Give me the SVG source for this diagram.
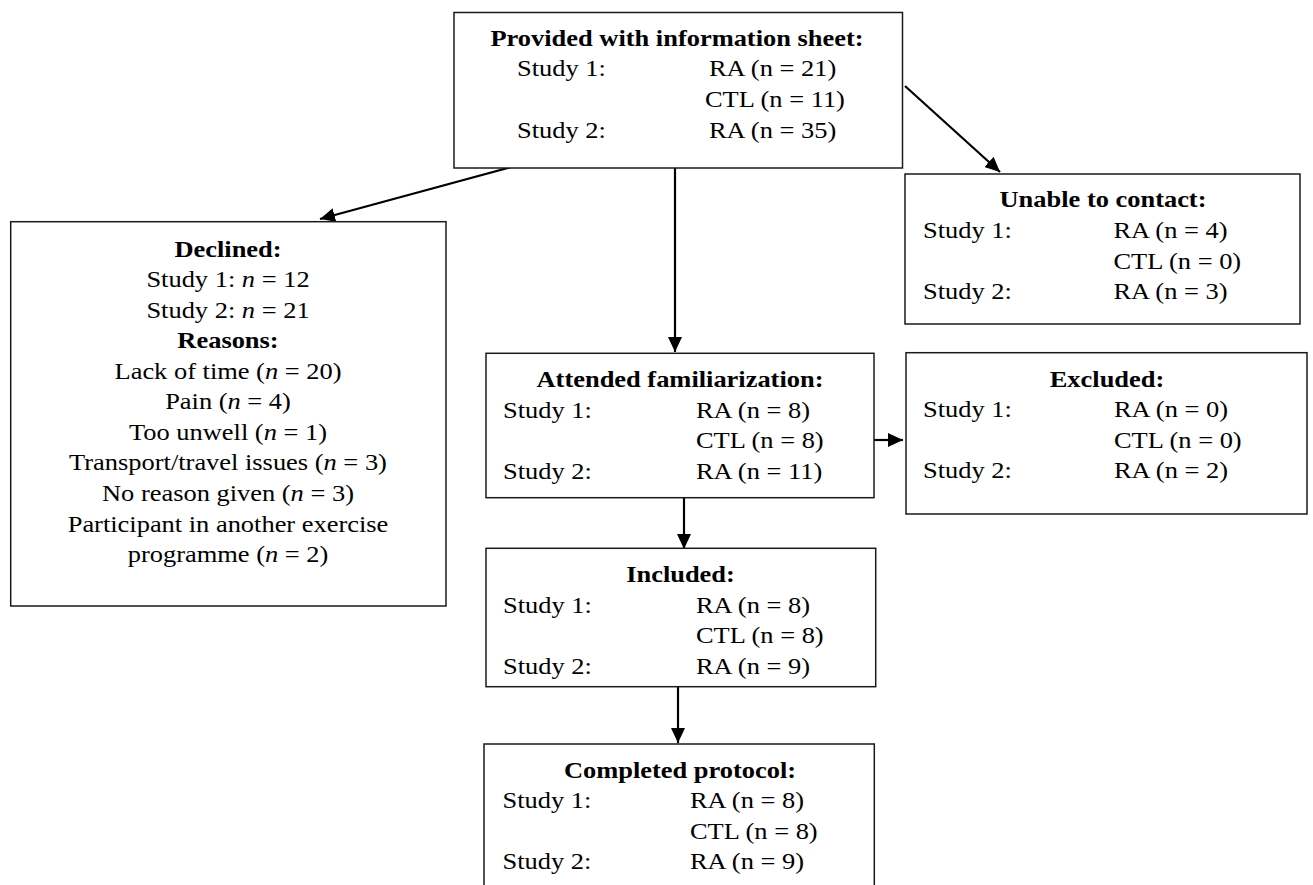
<svg xmlns="http://www.w3.org/2000/svg" width="1313" height="885" viewBox="0 0 1313 885">
<style>
.box{fill:#fff;stroke:#1a1a1a;stroke-width:1.5}
.t{font-family:"Liberation Serif","Times New Roman",serif;font-size:22.6px;fill:#000}
.h{font-weight:bold;text-anchor:middle}
.c{text-anchor:middle}
.i{font-style:italic}
.conn{stroke:#000;stroke-width:2.2;fill:none;marker-end:url(#ah)}
</style>
<defs>
<marker id="ah" markerUnits="userSpaceOnUse" markerWidth="16" markerHeight="14" refX="15" refY="7" orient="auto">
<path d="M0,0 L15,7 L0,14 z" fill="#000"/>
</marker>
</defs>
<rect width="1313" height="885" fill="#fff"/>

<g id="connectors">
<line class="conn" x1="522" y1="164" x2="320" y2="219"/>
<line class="conn" x1="675" y1="164" x2="675" y2="352"/>
<line class="conn" x1="905" y1="86" x2="1000" y2="172"/>
<line class="conn" x1="874" y1="440" x2="903" y2="440"/>
<line class="conn" x1="684" y1="498" x2="684" y2="549"/>
<line class="conn" x1="678" y1="687" x2="678" y2="743"/>
</g>

<g id="provided">
<rect class="box" x="454" y="12.5" width="448.5" height="155.5"/>
<text class="t h" transform="matrix(1.17 0 0 1 677 46)">Provided with information sheet:</text>
<text class="t" transform="matrix(1.17 0 0 1 517 76)">Study 1:</text>
<text class="t" transform="matrix(1.17 0 0 1 709 76)">RA (n = 21)</text>
<text class="t" transform="matrix(1.17 0 0 1 705 107)">CTL (n = 11)</text>
<text class="t" transform="matrix(1.17 0 0 1 517 138)">Study 2:</text>
<text class="t" transform="matrix(1.17 0 0 1 709 138)">RA (n = 35)</text>
</g>

<g id="declined">
<rect class="box" x="10.7" y="221.7" width="435.3" height="384.3"/>
<text class="t h" transform="matrix(1.17 0 0 1 228 256.5)">Declined:</text>
<text class="t c" transform="matrix(1.17 0 0 1 228 287)">Study 1: <tspan class="i">n</tspan> = 12</text>
<text class="t c" transform="matrix(1.17 0 0 1 228 317.5)">Study 2: <tspan class="i">n</tspan> = 21</text>
<text class="t h" transform="matrix(1.17 0 0 1 228 347.5)">Reasons:</text>
<text class="t c" transform="matrix(1.17 0 0 1 228 378.5)">Lack of time (<tspan class="i">n</tspan> = 20)</text>
<text class="t c" transform="matrix(1.17 0 0 1 228 409)">Pain (<tspan class="i">n</tspan> = 4)</text>
<text class="t c" transform="matrix(1.17 0 0 1 228 439.5)">Too unwell (<tspan class="i">n</tspan> = 1)</text>
<text class="t c" transform="matrix(1.17 0 0 1 228 470)">Transport/travel issues (<tspan class="i">n</tspan> = 3)</text>
<text class="t c" transform="matrix(1.17 0 0 1 228 501)">No reason given (<tspan class="i">n</tspan> = 3)</text>
<text class="t c" transform="matrix(1.17 0 0 1 228 531.5)">Participant in another exercise</text>
<text class="t c" transform="matrix(1.17 0 0 1 228 562)">programme (<tspan class="i">n</tspan> = 2)</text>
</g>

<g id="unable">
<rect class="box" x="905" y="174" width="395" height="150"/>
<text class="t h" transform="matrix(1.17 0 0 1 1103 207)">Unable to contact:</text>
<text class="t" transform="matrix(1.17 0 0 1 923 238)">Study 1:</text>
<text class="t" transform="matrix(1.17 0 0 1 1113.5 238)">RA (n = 4)</text>
<text class="t" transform="matrix(1.17 0 0 1 1113.5 269)">CTL (n = 0)</text>
<text class="t" transform="matrix(1.17 0 0 1 923 299)">Study 2:</text>
<text class="t" transform="matrix(1.17 0 0 1 1113.5 299)">RA (n = 3)</text>
</g>

<g id="attended">
<rect class="box" x="486" y="353.3" width="388" height="144.4"/>
<text class="t h" transform="matrix(1.17 0 0 1 680 387)">Attended familiarization:</text>
<text class="t" transform="matrix(1.17 0 0 1 503 417.5)">Study 1:</text>
<text class="t" transform="matrix(1.17 0 0 1 696 417.5)">RA (n = 8)</text>
<text class="t" transform="matrix(1.17 0 0 1 696 448)">CTL (n = 8)</text>
<text class="t" transform="matrix(1.17 0 0 1 503 478.5)">Study 2:</text>
<text class="t" transform="matrix(1.17 0 0 1 696 478.5)">RA (n = 11)</text>
</g>

<g id="excluded">
<rect class="box" x="906" y="352.7" width="401" height="161.3"/>
<text class="t h" transform="matrix(1.17 0 0 1 1107 387)">Excluded:</text>
<text class="t" transform="matrix(1.17 0 0 1 923 417)">Study 1:</text>
<text class="t" transform="matrix(1.17 0 0 1 1114 417)">RA (n = 0)</text>
<text class="t" transform="matrix(1.17 0 0 1 1114 447.5)">CTL (n = 0)</text>
<text class="t" transform="matrix(1.17 0 0 1 923 478)">Study 2:</text>
<text class="t" transform="matrix(1.17 0 0 1 1114 478)">RA (n = 2)</text>
</g>

<g id="included">
<rect class="box" x="486" y="548.3" width="389.7" height="138.4"/>
<text class="t h" transform="matrix(1.17 0 0 1 680.5 582)">Included:</text>
<text class="t" transform="matrix(1.17 0 0 1 503 612.5)">Study 1:</text>
<text class="t" transform="matrix(1.17 0 0 1 696 612.5)">RA (n = 8)</text>
<text class="t" transform="matrix(1.17 0 0 1 696 643)">CTL (n = 8)</text>
<text class="t" transform="matrix(1.17 0 0 1 503 673.5)">Study 2:</text>
<text class="t" transform="matrix(1.17 0 0 1 696 673.5)">RA (n = 9)</text>
</g>

<g id="completed">
<rect class="box" x="484" y="744" width="390.3" height="160"/>
<text class="t h" transform="matrix(1.17 0 0 1 680 778)">Completed protocol:</text>
<text class="t" transform="matrix(1.17 0 0 1 502.5 807.5)">Study 1:</text>
<text class="t" transform="matrix(1.17 0 0 1 690 807.5)">RA (n = 8)</text>
<text class="t" transform="matrix(1.17 0 0 1 690 838.5)">CTL (n = 8)</text>
<text class="t" transform="matrix(1.17 0 0 1 502.5 868.5)">Study 2:</text>
<text class="t" transform="matrix(1.17 0 0 1 690 868.5)">RA (n = 9)</text>
</g>
</svg>
